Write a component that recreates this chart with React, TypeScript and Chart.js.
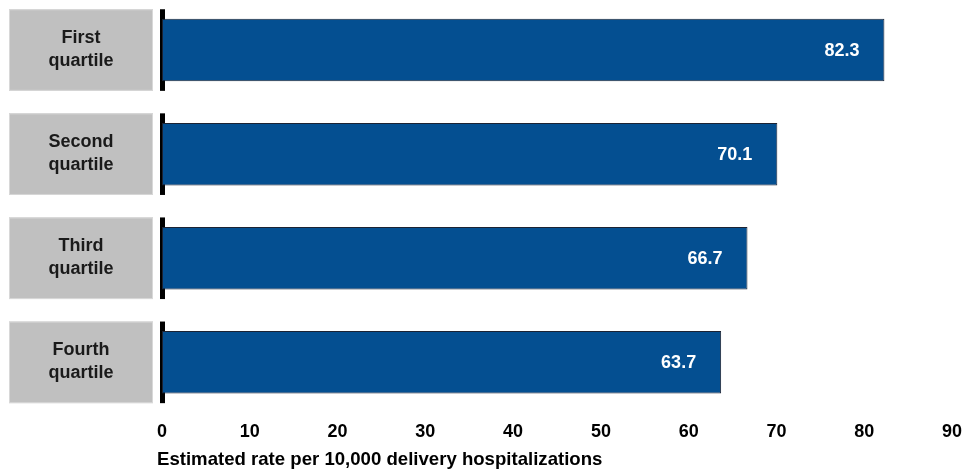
import React, { useEffect, useRef } from "react";
import { Chart, registerables } from "chart.js";

Chart.register(...registerables);

const categories: string[][] = [
  ["First", "quartile"],
  ["Second", "quartile"],
  ["Third", "quartile"],
  ["Fourth", "quartile"],
];
const rates: number[] = [82.3, 70.1, 66.7, 63.7];
const xTicks: number[] = [0, 10, 20, 30, 40, 50, 60, 70, 80, 90];
const xTitle = "Estimated rate per 10,000 delivery hospitalizations";

const FONT = "'Liberation Sans', Arial, Helvetica, sans-serif";

const decorPlugin = {
  id: "decor",
  beforeDatasetsDraw(chart: any) {
    const { ctx, chartArea } = chart;
    const y = chart.scales.y;
    const band = y.getPixelForValue(1) - y.getPixelForValue(0);
    const half = Math.abs(band) * 0.392;
    ctx.save();
    categories.forEach((lines, i) => {
      const cy = y.getPixelForValue(i);
      const top = cy - half;
      const h = half * 2;
      ctx.fillStyle = "#c0c0c0";
      ctx.fillRect(9, top, 144, h);
      ctx.strokeStyle = "#d8d8d8";
      ctx.lineWidth = 1;
      ctx.strokeRect(9.5, top + 0.5, 143, h - 1);
      ctx.fillStyle = "#1a1a1a";
      ctx.font = `bold 18px ${FONT}`;
      ctx.textAlign = "center";
      ctx.textBaseline = "middle";
      ctx.fillText(lines[0], 81, cy - 12);
      ctx.fillText(lines[1], 81, cy + 11);
      ctx.fillStyle = "#000000";
      ctx.fillRect(chartArea.left - 2, top, 5, h);
    });
    ctx.restore();
  },
  afterDatasetsDraw(chart: any) {
    const { ctx } = chart;
    const meta = chart.getDatasetMeta(0);
    ctx.save();
    ctx.fillStyle = "#ffffff";
    ctx.font = `bold 18px ${FONT}`;
    ctx.textAlign = "right";
    ctx.textBaseline = "middle";
    meta.data.forEach((bar: any, i: number) => {
      ctx.fillText(rates[i].toFixed(1), bar.x - 25, bar.y + 1);
    });
    ctx.fillStyle = "#000000";
    ctx.font = `bold 18.6px ${FONT}`;
    ctx.textAlign = "left";
    ctx.textBaseline = "middle";
    ctx.fillText(xTitle, 157, 462);
    ctx.restore();
  },
};

export default function App() {
  const ref = useRef<HTMLCanvasElement | null>(null);
  useEffect(() => {
    if (!ref.current) return;
    const chart = new Chart(ref.current, {
      type: "bar",
      data: {
        labels: categories.map((c) => c.join(" ")),
        datasets: [
          {
            data: rates,
            backgroundColor: "#044f91",
            borderColor: "#1c2333",
            borderWidth: 1,
            borderSkipped: false,
            categoryPercentage: 1,
            barPercentage: 0.6,
          },
        ],
      },
      options: {
        indexAxis: "y",
        animation: false,
        responsive: false,
        maintainAspectRatio: false,
        layout: { padding: { left: 162, right: 25, top: 0, bottom: 19 } },
        plugins: { legend: { display: false }, tooltip: { enabled: false } },
        scales: {
          y: { display: false, grid: { display: false } },
          x: {
            min: 0,
            max: 90,
            afterBuildTicks: (axis: any) => {
              axis.ticks = xTicks.map((v) => ({ value: v }));
            },
            grid: { display: false, drawTicks: false },
            border: { display: false },
            ticks: {
              color: "#000000",
              font: { family: FONT, size: 18, weight: "bold" },
              padding: 7,
              maxRotation: 0,
            },
          },
        },
      },
      plugins: [decorPlugin],
    });
    return () => chart.destroy();
  }, []);
  return (
    <div style={{ position: "absolute", left: 0, top: -2, width: 977, height: 471 }}>
      <canvas ref={ref} width={977} height={471} style={{ width: 977, height: 471 }} />
    </div>
  );
}
